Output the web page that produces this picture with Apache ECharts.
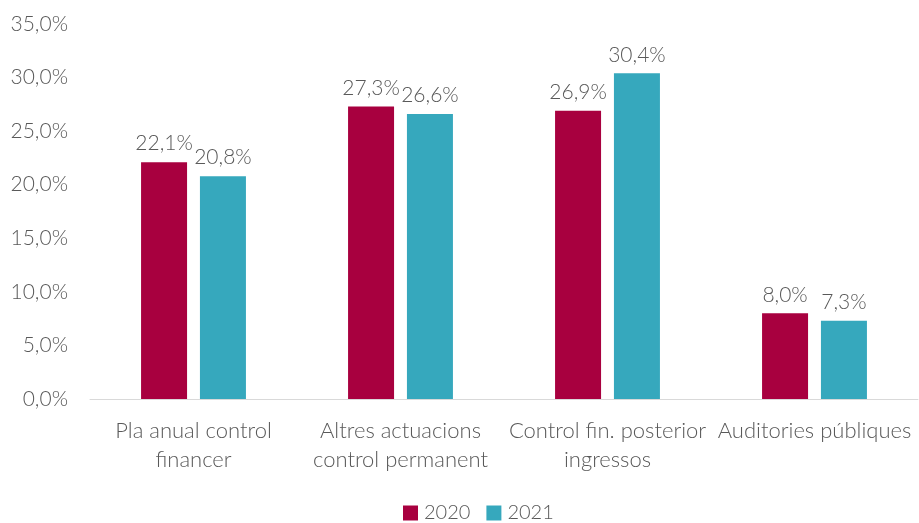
<!DOCTYPE html>
<html><head><meta charset="utf-8">
<script src="https://cdn.jsdelivr.net/npm/echarts@6/dist/echarts.min.js"></script>
<style>html,body{margin:0;padding:0;background:#fff}#c{width:919px;height:523px}</style>
</head><body><div id="c"></div>
<script>
const categories = ["Pla anual control\nfinancer", "Altres actuacions\ncontrol permanent", "Control fin. posterior\ningressos", "Auditories públiques"];
const seriesNames = ["2020", "2021"];
const values2020 = [22.1, 27.3, 26.9, 8.0];
const values2021 = [20.8, 26.6, 30.4, 7.3];
const colors = ["#A8003F", "#36A8BD"];
const fmt = v => v.toFixed(1).replace('.', ',') + '%';
const font = "Lato";
const fw = 300;
const fs = 21;
const chart = echarts.init(document.getElementById('c'));
chart.setOption({
  animation: false,
  grid: {left: 90, right: 1, top: 24, bottom: 124, containLabel: false},
  legend: {top: 498, left: 398, itemWidth: 15, itemHeight: 15, itemGap: 16, icon: 'rect',
    textStyle: {color: '#595959', fontSize: 20, fontWeight: fw, fontFamily: font, padding: [0, 0, 0, 1]}, data: seriesNames},
  xAxis: {type: 'category', data: categories,
    axisLine: {lineStyle: {color: '#D9D9D9', width: 1}}, axisTick: {show: false},
    axisLabel: {color: '#595959', fontSize: 22, fontWeight: fw, fontFamily: font, lineHeight: 29, margin: 17, interval: 0}},
  yAxis: {type: 'value', min: 0, max: 35, interval: 5, splitLine: {show: false},
    axisLine: {show: false}, axisTick: {show: false},
    axisLabel: {color: '#595959', fontSize: fs, fontWeight: fw, fontFamily: font, margin: 22, formatter: v => fmt(v)}},
  series: [values2020, values2021].map((d, i) => ({
    name: seriesNames[i], type: 'bar', data: d, barWidth: 46, barGap: '28%',
    itemStyle: {color: colors[i]},
    label: {show: true, position: 'top', distance: 8, color: '#595959', fontSize: fs, fontWeight: fw, fontFamily: font, formatter: p => fmt(p.value)}
  }))
});
</script></body></html>
